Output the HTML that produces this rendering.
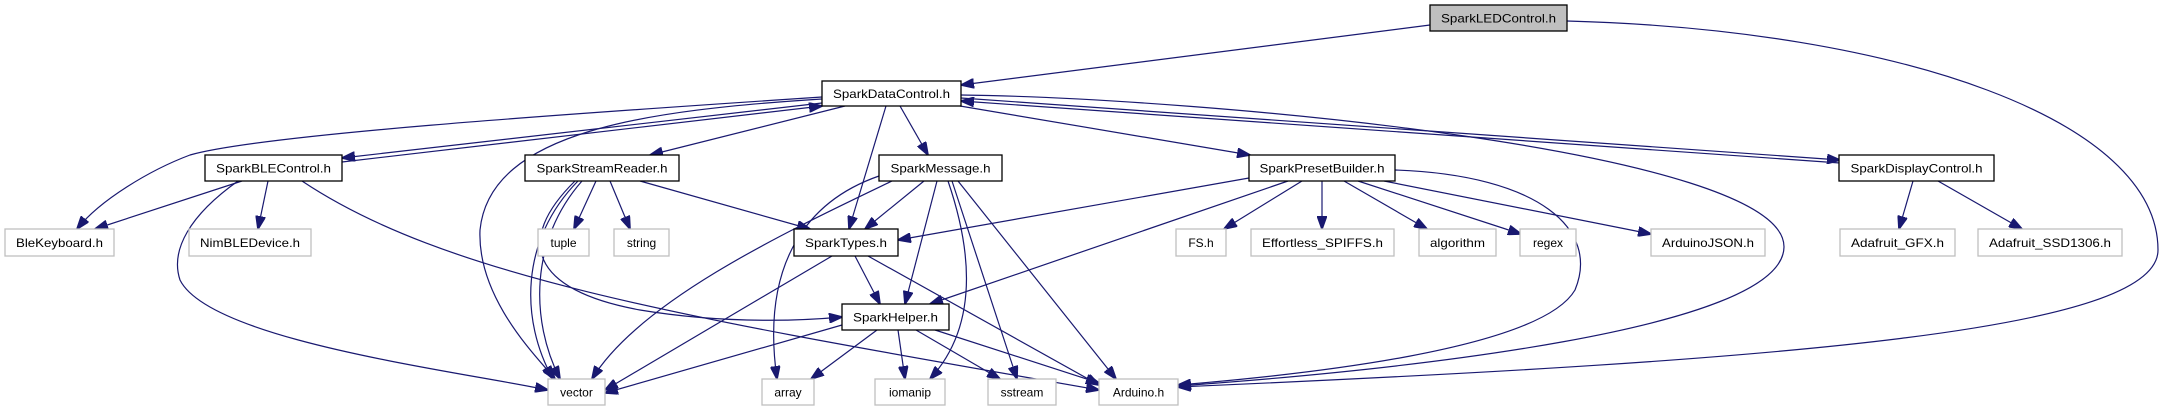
<!DOCTYPE html>
<html><head><meta charset="utf-8"><style>
html,body{margin:0;padding:0;background:#fff;}
svg{display:block;}
text{font-family:"Liberation Sans",Helvetica,sans-serif;font-size:12px;fill:#000;}
.n{fill:#fff;stroke:#000;stroke-width:1.3;}
.g{fill:#fff;stroke:#bfbfbf;stroke-width:1.3;}
.e{fill:none;stroke:#191970;stroke-width:1.2;}
</style></head><body>
<svg width="2165" height="411" viewBox="0 0 2165 411" xmlns="http://www.w3.org/2000/svg">
<defs><marker id="a" markerUnits="userSpaceOnUse" markerWidth="14" markerHeight="10" refX="13" refY="5" orient="auto"><path d="M0,0 L14,5 L0,10 z" fill="#191970" stroke="#191970"/></marker></defs>
<g marker-end="url(#a)">
<path class="e" d="M1430,25 L961,85"/>
<path class="e" d="M1567,21 C1900,30 2158,120 2158,250 C2158,330 1800,360 1178,387"/>
<path class="e" d="M822,97 C550,115 260,135 190,155 C150,170 100,200 77,229"/>
<path class="e" d="M822,103 L342,158"/>
<path class="e" d="M342,162 L822,106"/>
<path class="e" d="M822,99 C650,110 490,130 480,230 C477,300 540,360 555,379"/>
<path class="e" d="M845,106 L650,155"/>
<path class="e" d="M886,106 L849,229"/>
<path class="e" d="M900,106 L928,155"/>
<path class="e" d="M960,106 L1250,155"/>
<path class="e" d="M961,98 L1840,160"/>
<path class="e" d="M1840,163 L961,101"/>
<path class="e" d="M961,95 C1200,98 1785,150 1784,247 C1783,330 1400,370 1178,386"/>
<path class="e" d="M242,181 L95,229"/>
<path class="e" d="M268,181 L258,229"/>
<path class="e" d="M238,181 C190,215 170,250 180,280 C210,340 450,370 548,390"/>
<path class="e" d="M302,181 C450,280 700,320 1099,390"/>
<path class="e" d="M578,181 C520,240 520,320 553,379"/>
<path class="e" d="M582,181 C530,240 530,320 560,379"/>
<path class="e" d="M596,181 L574,229"/>
<path class="e" d="M610,181 L630,229"/>
<path class="e" d="M640,181 L810,229"/>
<path class="e" d="M575,181 C515,240 530,290 640,310 C730,325 810,320 842,317"/>
<path class="e" d="M879,176 C810,200 760,260 777,379"/>
<path class="e" d="M892,181 C790,230 640,300 592,379"/>
<path class="e" d="M924,181 L865,229"/>
<path class="e" d="M937,181 L905,304"/>
<path class="e" d="M948,181 C975,260 975,330 930,379"/>
<path class="e" d="M952,181 L1017,379"/>
<path class="e" d="M958,181 L1116,379"/>
<path class="e" d="M855,256 L880,304"/>
<path class="e" d="M832,256 L605,390"/>
<path class="e" d="M868,256 L1099,385"/>
<path class="e" d="M842,325 L605,393"/>
<path class="e" d="M877,330 L811,379"/>
<path class="e" d="M898,330 L905,379"/>
<path class="e" d="M916,330 L1000,379"/>
<path class="e" d="M935,330 L1099,383"/>
<path class="e" d="M1249,178 L898,240"/>
<path class="e" d="M1288,181 L930,304"/>
<path class="e" d="M1302,181 L1224,229"/>
<path class="e" d="M1322,181 L1322,229"/>
<path class="e" d="M1344,181 L1427,229"/>
<path class="e" d="M1358,181 L1521,234"/>
<path class="e" d="M1384,181 L1651,234"/>
<path class="e" d="M1395,170 C1540,175 1600,230 1575,290 C1540,350 1300,375 1178,385"/>
<path class="e" d="M1913,181 L1899,229"/>
<path class="e" d="M1938,181 L2022,229"/>
</g>
<!-- nodes -->
<rect x="1430" y="5" width="137" height="26" fill="#bfbfbf" stroke="#000" stroke-width="1.3"/>
<text x="1498.5" y="22.5" text-anchor="middle" textLength="115" lengthAdjust="spacingAndGlyphs">SparkLEDControl.h</text>
<rect class="n" x="822" y="81" width="139" height="25"/><text x="891.5" y="98" text-anchor="middle" textLength="117" lengthAdjust="spacingAndGlyphs">SparkDataControl.h</text>
<rect class="n" x="205" y="155" width="137" height="26"/><text x="273.5" y="172.5" text-anchor="middle" textLength="115" lengthAdjust="spacingAndGlyphs">SparkBLEControl.h</text>
<rect class="n" x="525" y="155" width="154" height="26"/><text x="602" y="172.5" text-anchor="middle" textLength="131" lengthAdjust="spacingAndGlyphs">SparkStreamReader.h</text>
<rect class="n" x="879" y="155" width="123" height="26"/><text x="940.5" y="172.5" text-anchor="middle" textLength="100" lengthAdjust="spacingAndGlyphs">SparkMessage.h</text>
<rect class="n" x="1249" y="155" width="146" height="26"/><text x="1322" y="172.5" text-anchor="middle" textLength="125" lengthAdjust="spacingAndGlyphs">SparkPresetBuilder.h</text>
<rect class="n" x="1839" y="155" width="155" height="26"/><text x="1916.5" y="172.5" text-anchor="middle" textLength="132" lengthAdjust="spacingAndGlyphs">SparkDisplayControl.h</text>
<rect class="n" x="794" y="229" width="104" height="27"/><text x="846" y="247" text-anchor="middle" textLength="82" lengthAdjust="spacingAndGlyphs">SparkTypes.h</text>
<rect class="n" x="842" y="304" width="107" height="26"/><text x="895.5" y="321.5" text-anchor="middle" textLength="85" lengthAdjust="spacingAndGlyphs">SparkHelper.h</text>
<rect class="g" x="5" y="229" width="109" height="27"/><text x="59.5" y="247" text-anchor="middle" textLength="87" lengthAdjust="spacingAndGlyphs">BleKeyboard.h</text>
<rect class="g" x="189" y="229" width="122" height="27"/><text x="250" y="247" text-anchor="middle" textLength="100" lengthAdjust="spacingAndGlyphs">NimBLEDevice.h</text>
<rect class="g" x="538" y="229" width="51" height="27"/><text x="563.5" y="247" text-anchor="middle">tuple</text>
<rect class="g" x="614" y="229" width="55" height="27"/><text x="641.5" y="247" text-anchor="middle">string</text>
<rect class="g" x="1176" y="229" width="50" height="27"/><text x="1201" y="247" text-anchor="middle">FS.h</text>
<rect class="g" x="1251" y="229" width="143" height="27"/><text x="1322.5" y="247" text-anchor="middle" textLength="121" lengthAdjust="spacingAndGlyphs">Effortless_SPIFFS.h</text>
<rect class="g" x="1419" y="229" width="77" height="27"/><text x="1457.5" y="247" text-anchor="middle" textLength="55" lengthAdjust="spacingAndGlyphs">algorithm</text>
<rect class="g" x="1520" y="229" width="56" height="27"/><text x="1548" y="247" text-anchor="middle">regex</text>
<rect class="g" x="1651" y="229" width="114" height="27"/><text x="1708" y="247" text-anchor="middle" textLength="92" lengthAdjust="spacingAndGlyphs">ArduinoJSON.h</text>
<rect class="g" x="1840" y="229" width="115" height="27"/><text x="1897.5" y="247" text-anchor="middle" textLength="93" lengthAdjust="spacingAndGlyphs">Adafruit_GFX.h</text>
<rect class="g" x="1978" y="229" width="144" height="27"/><text x="2050" y="247" text-anchor="middle" textLength="122" lengthAdjust="spacingAndGlyphs">Adafruit_SSD1306.h</text>
<rect class="g" x="548" y="379" width="57" height="26"/><text x="576.5" y="396.5" text-anchor="middle">vector</text>
<rect class="g" x="762" y="379" width="52" height="26"/><text x="788" y="396.5" text-anchor="middle">array</text>
<rect class="g" x="875" y="379" width="70" height="26"/><text x="910" y="396.5" text-anchor="middle">iomanip</text>
<rect class="g" x="988" y="379" width="68" height="26"/><text x="1022" y="396.5" text-anchor="middle">sstream</text>
<rect class="g" x="1099" y="379" width="79" height="26"/><text x="1138.5" y="396.5" text-anchor="middle">Arduino.h</text>
</svg>
</body></html>
